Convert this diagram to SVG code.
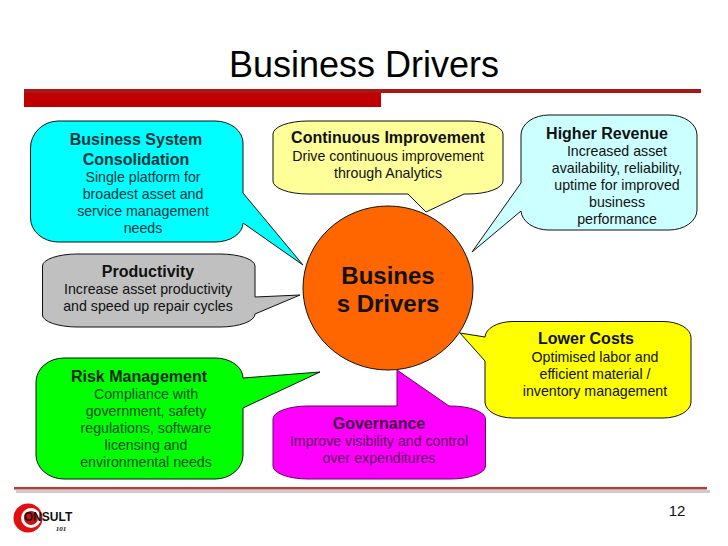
<svg xmlns="http://www.w3.org/2000/svg" width="728" height="546" viewBox="0 0 728 546">
<style>
text{font-family:"Liberation Sans",Arial,sans-serif;fill:#111;text-anchor:middle}
.h{font-size:16px;font-weight:bold}
.b{font-size:14.200px}
.call{stroke:#111;stroke-width:1}
.c{font-size:24px;font-weight:bold}
#business-system .b,#business-system .h{fill:#00343c}
#risk-management .b{fill:#004d10}
#risk-management .h{fill:#002a08}
#governance .b{fill:#5c005c}
#governance .h{fill:#420042}
</style>
<rect width="728" height="546" fill="#fff"/>
<g id="header">
<text x="364" y="77" font-size="36" style="fill:#000">Business Drivers</text>
<rect x="24" y="89" width="357" height="18" fill="#c00000"/>
<rect x="24" y="89" width="677" height="4" fill="#a81818"/>
</g>
<g id="footer">
<rect x="16" y="490" width="694" height="3" fill="#ccc"/>
<rect x="14" y="487" width="693" height="2.500" fill="#b83a3a"/>
<text x="677" y="516" font-size="15">12</text>
<circle cx="28" cy="518" r="14.500" fill="#e01010"/>
<circle cx="31" cy="518" r="10" fill="#fff"/>
<circle cx="31" cy="518" r="7" fill="#d01010"/>
<text x="48" y="521" font-size="12" font-weight="bold" style="fill:#111">ONSULT</text>
<text x="61" y="531" font-size="7" font-weight="bold" font-style="italic" style="font-family:'Liberation Serif',serif">101</text>
</g>
<g id="connectors"></g>
<g id="business-system">
<path class="call" fill="#00ffff" d="M58 121H215A28 22 0 0 1 243 143V193L303 265L243 223A28 19 0 0 1 215 242H58A28 24 0 0 1 30.500 218V148A28 27 0 0 1 58 121Z"/>
<text class="h" x="136" y="145">Business System</text>
<text class="h" x="136" y="165">Consolidation</text>
<text class="b" x="143" y="182">Single platform for</text>
<text class="b" x="143" y="199">broadest asset and</text>
<text class="b" x="143" y="216">service management</text>
<text class="b" x="143" y="233">needs</text>
</g>
<g id="continuous-improvement">
<path class="call" fill="#ffff99" d="M308 121H468A35 13 0 0 1 503 134V181A35 13 0 0 1 468 194H464L426 212L408 194H308A35 13 0 0 1 273 181V134A35 13 0 0 1 308 121Z"/>
<text class="h" x="388" y="143">Continuous Improvement</text>
<text class="b" x="388" y="161">Drive continuous improvement</text>
<text class="b" x="388" y="178">through Analytics</text>
</g>
<g id="higher-revenue">
<path class="call" fill="#ccffff" d="M549 115H669A28 20 0 0 1 697 135V210A28 20 0 0 1 669 230H549A28 20 0 0 1 521 211L472 252L521 183V135A28 20 0 0 1 549 115Z"/>
<text class="h" x="607" y="139">Higher Revenue</text>
<text class="b" x="617" y="156">Increased asset</text>
<text class="b" x="617" y="173">availability, reliability,</text>
<text class="b" x="617" y="190">uptime for improved</text>
<text class="b" x="617" y="207">business</text>
<text class="b" x="617" y="224">performance</text>
</g>
<g id="productivity">
<path class="call" fill="#c0c0c0" d="M77 254H220A35 12 0 0 1 255 266V297L300 295L255 314A35 13 0 0 1 220 327H77A35 12 0 0 1 42.500 315V266A35 12 0 0 1 77 254Z"/>
<text class="h" x="148" y="277">Productivity</text>
<text class="b" x="148" y="294">Increase asset productivity</text>
<text class="b" x="148" y="311">and speed up repair cycles</text>
</g>
<g id="risk-management">
<path class="call" fill="#00ff00" d="M64 358H215A28 20 0 0 1 243 378L320 372L243 408V455A28 24 0 0 1 215 479H64A28 24 0 0 1 36 455V382A28 24 0 0 1 64 358Z"/>
<text class="h" x="139" y="382">Risk Management</text>
<text class="b" x="146" y="399">Compliance with</text>
<text class="b" x="146" y="416">government, safety</text>
<text class="b" x="146" y="433">regulations, software</text>
<text class="b" x="146" y="450">licensing and</text>
<text class="b" x="146" y="467">environmental needs</text>
</g>
<g id="governance">
<path fill="#ff00ff" stroke="#660066" d="M308 406H397V370L449 406H450A35 13 0 0 1 485.500 419V466A35 13 0 0 1 450 479H308A35 13 0 0 1 273 466V419A35 13 0 0 1 308 406Z"/>
<text class="h" x="379" y="429">Governance</text>
<text class="b" x="379" y="446">Improve visibility and control</text>
<text class="b" x="379" y="463">over expenditures</text>
</g>
<g id="lower-costs">
<path class="call" fill="#ffff00" d="M513 321.500H663A28 16 0 0 1 691 337.500V402A28 16 0 0 1 663 418H513A28 16 0 0 1 485 402V361L460 333L485 337A28 16 0 0 1 513 321.500Z"/>
<text class="h" x="586" y="344">Lower Costs</text>
<text class="b" x="595" y="362">Optimised labor and</text>
<text class="b" x="595" y="379">efficient material /</text>
<text class="b" x="595" y="396">inventory management</text>
</g>
<g id="center">
<ellipse cx="388" cy="288" rx="85" ry="82" fill="#ff6600" stroke="#111" stroke-width="1"/>
<text class="c" x="388" y="284">Busines</text>
<text class="c" x="388" y="312">s Drivers</text>
</g>
</svg>
